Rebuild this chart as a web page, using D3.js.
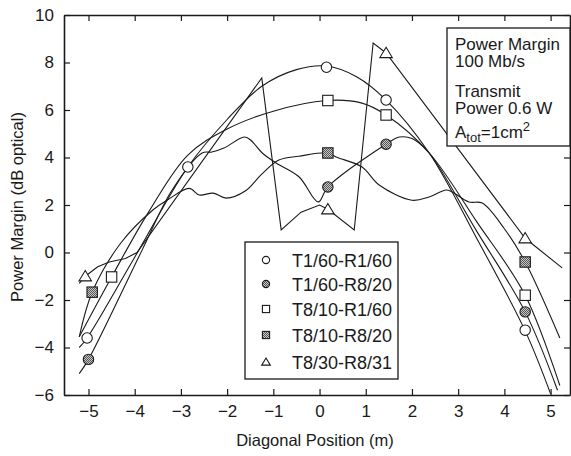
<!DOCTYPE html>
<html>
<head>
<meta charset="utf-8">
<script src="https://cdn.jsdelivr.net/npm/d3@7"></script>
<style>
  body { margin: 0; background: #fff; }
  svg { font-family: "Liberation Sans", Arial, Helvetica, sans-serif; }
</style>
</head>
<body>
<svg id="chart" width="571" height="456"></svg>
<script>
// tick values
const xTicks = [-5, -4, -3, -2, -1, 0, 1, 2, 3, 4, 5]
const yTicks = [-6, -4, -2, 0, 2, 4, 6, 8, 10]

const seriesNames = ['T1/60-R1/60', 'T1/60-R8/20', 'T8/10-R1/60', 'T8/10-R8/20', 'T8/30-R8/31']
const seriesShapes = ['circle', 'circle', 'square', 'square', 'triangle']
const seriesFilled = [false, true, false, true, false]
const seriesSmooth = [true, true, true, true, false]

// curve traces, [position m, margin dB]
const curveT1R1 = [[-5.2, -4.0], [-5.03, -3.6], [-4.0, -0.2], [-2.85, 3.6], [-2.0, 5.6], [-1.25, 7.0],
  [-0.5, 7.7], [0.15, 7.85], [0.8, 7.4], [1.44, 6.42], [2.37, 4.2], [3.4, 0.6], [4.45, -3.3], [5.0, -5.95]]
const curveT1R8 = [[-5.2, -5.1], [-5.0, -4.5], [-3.84, 0.1], [-3.2, 2.6], [-2.54, 4.19], [-2.33, 4.23],
  [-2.07, 4.4], [-1.63, 4.86], [-1.5, 4.75], [-1.24, 4.19], [-0.94, 3.77], [-0.44, 3.18], [-0.03, 2.13],
  [0.18, 2.76], [1.44, 4.56], [1.73, 4.86], [2.0, 4.8], [2.37, 4.19], [3.4, 0.9], [4.45, -2.5], [5.15, -5.8]]
const curveT8R1 = [[-5.2, -3.55], [-4.5, -1.03], [-3.7, 1.7], [-2.85, 4.1], [-2.0, 5.2], [-1.0, 5.95],
  [0.15, 6.4], [0.9, 6.3], [1.44, 5.79], [2.37, 4.2], [3.4, 1.3], [4.45, -1.8], [5.2, -5.6]]
const curveT8R8 = [[-5.2, -3.55], [-4.92, -1.67], [-4.3, 0.4], [-3.6, 1.8], [-3.3, 2.2], [-2.82, 2.7],
  [-2.6, 2.42], [-2.3, 2.5], [-2.02, 2.29], [-1.6, 2.6], [-1.25, 3.3], [-0.88, 3.89], [-0.45, 4.05],
  [0.18, 4.19], [0.36, 4.02], [0.92, 3.6], [1.29, 2.84], [2.0, 2.2], [2.37, 2.34], [2.74, 2.63],
  [2.87, 2.55], [3.23, 2.13], [3.52, 2.08], [4.0, 1.0], [4.45, -0.4], [5.2, -3.6]]
const curveT8R31 = [[-5.2, -1.3], [-5.07, -1.0], [-4.8, -0.6], [-4.55, -0.4], [-4.2, -0.25], [-3.95, 0.0],
  [-1.25, 7.35], [-0.83, 0.95], [-0.4, 1.7], [0.0, 2.0], [0.18, 1.82], [0.75, 0.95], [1.16, 8.82],
  [1.44, 8.4], [4.45, 0.6], [5.25, -0.65]]

// measured points with markers
const markT1R1 = [[-5.03, -3.6], [-2.85, 3.6], [0.15, 7.8], [1.44, 6.42], [4.45, -3.27]]
const markT1R8 = [[-5.0, -4.5], [0.18, 2.76], [1.44, 4.56], [4.45, -2.5]]
const markT8R1 = [[-4.5, -1.03], [0.18, 6.4], [1.44, 5.79], [4.45, -1.8]]
const markT8R8 = [[-4.92, -1.67], [0.18, 4.19], [4.45, -0.4]]
const markT8R31 = [[-5.07, -1.0], [0.18, 1.82], [1.44, 8.4], [4.45, 0.6]]

const curves = [curveT1R1, curveT1R8, curveT8R1, curveT8R8, curveT8R31]
const marks = [markT1R1, markT1R8, markT8R1, markT8R8, markT8R31]

const noteLines = ['Power Margin', '100 Mb/s', 'Transmit', 'Power 0.6 W']

const svg = d3.select('#chart')
const plot = { left: 64, right: 570, top: 15, bottom: 395 }
const ink = '#1a1a1a'

const x = d3.scaleLinear().domain([-5.53, 5.42]).range([plot.left, plot.right])
const y = d3.scaleLinear().domain([-6, 10]).range([plot.bottom, plot.top])

// gray dither fill
const defs = svg.append('defs')
const pat = defs.append('pattern').attr('id', 'dither')
  .attr('width', 2).attr('height', 2).attr('patternUnits', 'userSpaceOnUse')
pat.append('rect').attr('width', 2).attr('height', 2).attr('fill', '#c8c8c8')
pat.append('rect').attr('width', 1).attr('height', 1).attr('fill', '#555')
pat.append('rect').attr('x', 1).attr('y', 1).attr('width', 1).attr('height', 1).attr('fill', '#555')

// axes, ticks point inward on all four sides
const tickFont = 17
svg.append('g').attr('transform', `translate(0,${plot.bottom})`)
  .call(d3.axisBottom(x).tickValues(xTicks).tickSizeInner(-6).tickSizeOuter(0).tickPadding(10).tickFormat(d3.format('d')))
svg.append('g').attr('transform', `translate(0,${plot.top})`)
  .call(d3.axisTop(x).tickValues(xTicks).tickSizeInner(-6).tickSizeOuter(0).tickFormat(''))
svg.append('g').attr('transform', `translate(${plot.left},0)`)
  .call(d3.axisLeft(y).tickValues(yTicks).tickSizeInner(-6).tickSizeOuter(0).tickPadding(10).tickFormat(d3.format('d')))
svg.append('g').attr('transform', `translate(${plot.right},0)`)
  .call(d3.axisRight(y).tickValues(yTicks).tickSizeInner(-6).tickSizeOuter(0).tickFormat(''))

svg.selectAll('.domain').attr('stroke', ink).attr('stroke-width', 1.6)
svg.selectAll('.tick line').attr('stroke', ink).attr('stroke-width', 1.2)
svg.selectAll('.tick text').attr('fill', ink).attr('font-size', tickFont).attr('font-family', null)

// axis titles
svg.append('text')
  .attr('x', (plot.left + plot.right) / 2 - 2).attr('y', 446)
  .attr('text-anchor', 'middle').attr('font-size', 16.5).attr('fill', ink)
  .text('Diagonal Position (m)')
svg.append('text')
  .attr('transform', `translate(23,${(plot.top + plot.bottom) / 2 + 2}) rotate(-90)`)
  .attr('text-anchor', 'middle').attr('font-size', 16.5).attr('fill', ink)
  .text('Power Margin (dB optical)')

// curves
const clip = defs.append('clipPath').attr('id', 'plotclip')
clip.append('rect').attr('x', plot.left).attr('y', plot.top)
  .attr('width', plot.right - plot.left).attr('height', plot.bottom - plot.top)

const lineSmooth = d3.line().x(d => x(d[0])).y(d => y(d[1])).curve(d3.curveCatmullRom.alpha(0.5))
const lineSharp = d3.line().x(d => x(d[0])).y(d => y(d[1])).curve(d3.curveLinear)

const gCurves = svg.append('g').attr('clip-path', 'url(#plotclip)')
curves.forEach((c, i) => {
  gCurves.append('path')
    .attr('d', seriesSmooth[i] ? lineSmooth(c) : lineSharp(c))
    .attr('fill', 'none').attr('stroke', ink).attr('stroke-width', 1.1)
})

function drawMarker(g, shape, filled, cx, cy, s) {
  const fill = filled ? 'url(#dither)' : '#fff'
  if (shape === 'circle') {
    g.append('circle').attr('cx', cx).attr('cy', cy).attr('r', s)
      .attr('fill', fill).attr('stroke', ink).attr('stroke-width', 1.1)
  } else if (shape === 'square') {
    g.append('rect').attr('x', cx - s).attr('y', cy - s).attr('width', 2 * s).attr('height', 2 * s)
      .attr('fill', fill).attr('stroke', ink).attr('stroke-width', 1.1)
  } else {
    const h = s * 1.1
    g.append('path').attr('d', `M${cx},${cy - h}L${cx + s * 1.2},${cy + h * 0.8}L${cx - s * 1.2},${cy + h * 0.8}Z`)
      .attr('fill', fill).attr('stroke', ink).attr('stroke-width', 1.1)
  }
}

const gMarks = svg.append('g')
marks.forEach((m, i) => {
  m.forEach(p => drawMarker(gMarks, seriesShapes[i], seriesFilled[i], x(p[0]), y(p[1]), 5.2))
})

// legend
const leg = svg.append('g')
leg.append('rect').attr('x', 245).attr('y', 242).attr('width', 153).attr('height', 137)
  .attr('fill', '#fff').attr('stroke', ink).attr('stroke-width', 1.3)
const legRows = [260, 284, 309, 335, 362]
seriesNames.forEach((name, i) => {
  drawMarker(leg, seriesShapes[i], seriesFilled[i], 266, legRows[i], 3.6)
  leg.append('text').attr('x', 292).attr('y', legRows[i] + 6.5)
    .attr('font-size', 18).attr('fill', ink).text(name)
})

// annotation box
const note = svg.append('g')
note.append('rect').attr('x', 447).attr('y', 28).attr('width', 123).attr('height', 118)
  .attr('fill', '#fff').attr('stroke', ink).attr('stroke-width', 1.3)
const noteBase = [49.5, 67, 96.5, 114]
noteLines.forEach((t, i) => {
  note.append('text').attr('x', 455).attr('y', noteBase[i])
    .attr('font-size', 17).attr('fill', ink).text(t)
})
const area = note.append('text').attr('x', 455).attr('y', 138).attr('font-size', 17).attr('fill', ink)
area.append('tspan').text('A')
area.append('tspan').attr('font-size', 13).attr('dy', 4).text('tot')
area.append('tspan').attr('dy', -4).text('=1cm')
area.append('tspan').attr('font-size', 13).attr('dy', -7).text('2')
</script>
</body>
</html>
